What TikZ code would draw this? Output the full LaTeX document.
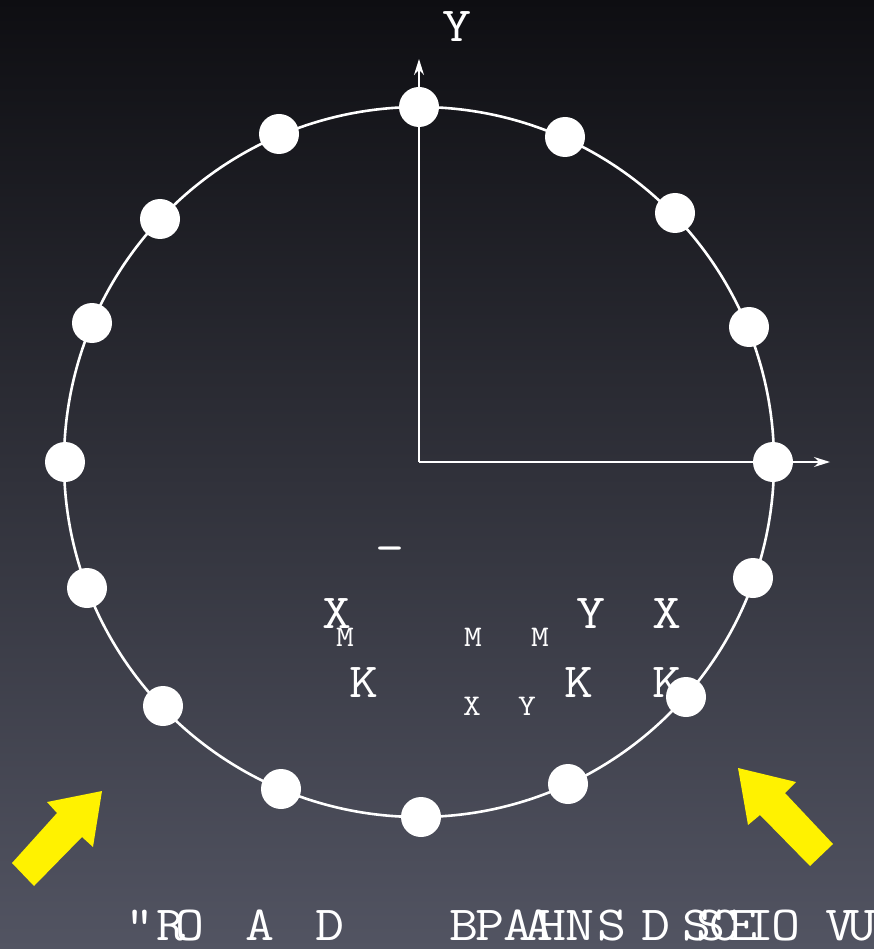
\documentclass[tikz,border=0pt]{standalone}
\usepackage{fontspec}
\usepackage{graphicx}
\usetikzlibrary{arrows.meta}
\definecolor{bgtop}{HTML}{0E0E12}
\definecolor{bgmid}{HTML}{2E2F3B}
\definecolor{bgbot}{HTML}{525462}
\definecolor{arrowyellow}{HTML}{FFF200}
\newcommand\widetxt[1]{\scalebox{1.15}[1]{#1}}
\tikzset{
  lbl/.style={text=white,inner sep=0pt,anchor=base,font=\fontsize{49}{49}\selectfont\ttfamily},
  sml/.style={text=white,inner sep=0pt,anchor=base,font=\fontsize{30}{30}\selectfont\ttfamily},
  dot/.style={circle,fill=white,minimum size=40pt,inner sep=0pt},
  axis/.style={white,line width=1.5pt,-{Stealth[length=16pt,width=10pt]}},
  ring/.style={white,line width=2.6pt},
  bigarrow/.style={fill=arrowyellow,draw=none}
}
\begin{document}
\begin{tikzpicture}[x=1pt,y=-1pt]
\shade[top color=bgtop,middle color=bgmid,bottom color=bgbot] (0,0) rectangle (874,949);
\useasboundingbox (0,0) rectangle (874,949);
% ring
\coordinate (o) at (419,462);
\draw[ring] (o) circle[radius=355pt];
% axes
\coordinate (ytip) at (419,59);
\coordinate (xtip) at (830,462);
\draw[axis] (o) -- (ytip);
\draw[axis] (o) -- (xtip);
% labels
\node[lbl] (ylab) at (457,42) {\widetxt{Y}};
\node[lbl] (dash) at (390,563) {\widetxt{-}};
\node[lbl] (x1) at (337,628) {\widetxt{X}};
\node[sml] (m1) at (345,646) {\widetxt{M}};
\node[lbl] (k1) at (364,697) {\widetxt{K}};
\node[sml] (m2) at (473,646) {\widetxt{M}};
\node[sml] (m3) at (540,646) {\widetxt{M}};
\node[sml] (sx) at (472,715) {\widetxt{X}};
\node[sml] (sy) at (527,715) {\widetxt{Y}};
\node[lbl] (y2) at (591,628) {\widetxt{Y}};
\node[lbl] (x2) at (667,628) {\widetxt{X}};
\node[lbl] (k2) at (579,697) {\widetxt{K}};
\node[lbl] (k3) at (667,697) {\widetxt{K}};
% dots
\foreach \px/\py [count=\i] in {419/107,565/137,675/213,749/327,773/462,753/578,686/697,568/784,421/817,281/789,163/706,87/588,65/462,92/323,160/219,279/134}
  \node[dot] (d\i) at (\px,\py) {};
% bottom text
\foreach \px/\c [count=\i] in {140/{"},171/R,190/O,260/A,330/D,464/B,490/P,518/A,539/A,552/H,580/N,612/S,656/D,697/S,711/S,724/C,743/E,760/I,786/O,840/V,862/U}
  \node[lbl] (b\i) at (\px,940) {\widetxt{\c}};
% yellow arrows
\fill[bigarrow] (102,791) -- (47,802) -- (57,813) -- (12,863) -- (34,886) -- (82,837) -- (93,847) -- cycle;
\fill[bigarrow] (738,768) -- (796,782) -- (785,793) -- (833,844) -- (810,866) -- (760,815) -- (748,825) -- cycle;
\end{tikzpicture}
\end{document}
